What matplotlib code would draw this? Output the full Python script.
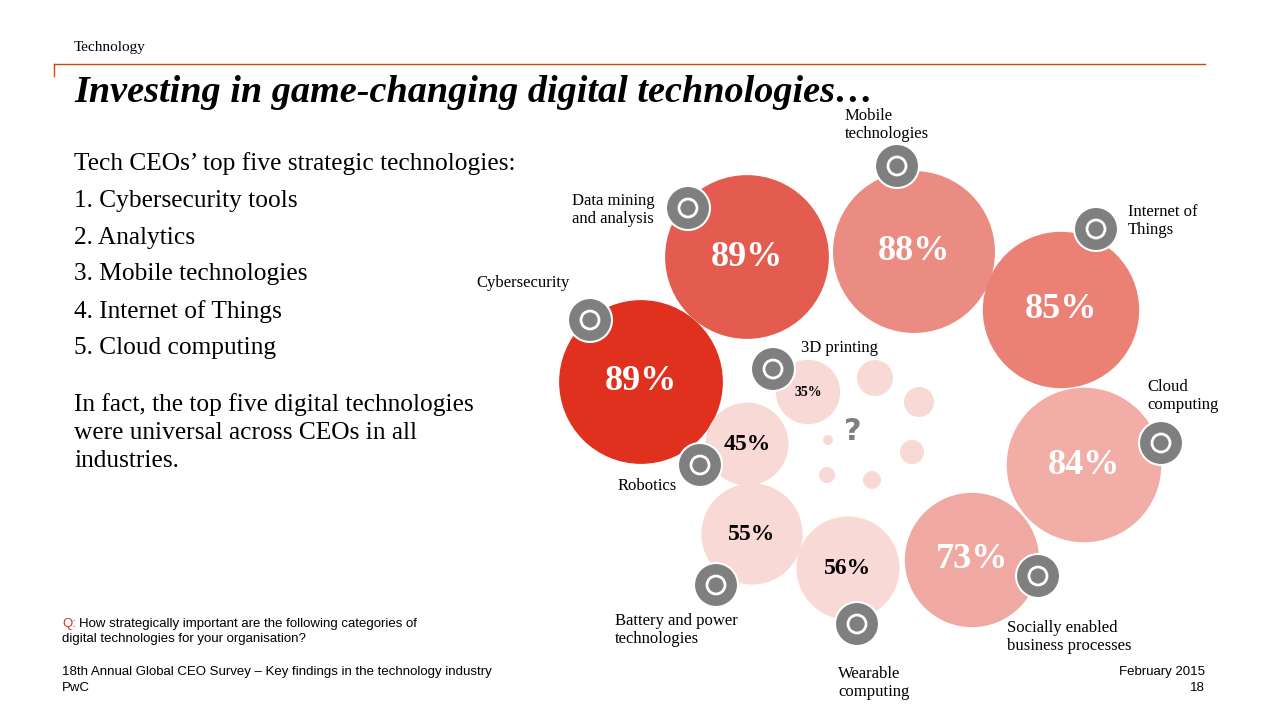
import matplotlib.pyplot as plt
from matplotlib.patches import Circle

# data
techs = ["Cybersecurity", "Data mining\nand analysis", "Mobile\ntechnologies", "Internet of\nThings",
         "Cloud\ncomputing", "Socially enabled\nbusiness processes", "Wearable\ncomputing",
         "Battery and power\ntechnologies", "Robotics", "3D printing"]
values = [89, 89, 88, 85, 84, 73, 56, 55, 45, 35]

# layout (pixels) and styling
centers = [(641, 382), (747, 257), (914, 252), (1061, 310), (1084, 465), (972, 560),
           (848, 568), (752, 534), (747, 444), (808, 392)]
colors = ["#E0301E", "#E45C50", "#EB8C82", "#EB8075", "#F2ADA6", "#F0A9A2",
          "#F9D9D6", "#F9D9D6", "#F9D9D6", "#F9D9D6"]
text_colors = ["white"] * 6 + ["black"] * 4
icons = [(590, 320), (688, 208), (897, 166), (1096, 229), (1161, 443), (1038, 576),
         (857, 624), (716, 585), (700, 465), (773, 369)]
labels = [(570, 283, "right"), (655, 210, "right"), (845, 125, "left"), (1128, 221, "left"),
          (1147, 396, "left"), (1007, 637, "left"), (838, 683, "left"), (615, 630, "left"),
          (677, 486, "right"), (801, 348, "left")]
dots = [(875, 378, 18), (919, 402, 15), (912, 452, 12), (828, 440, 5), (827, 475, 8), (872, 480, 9)]

serif = "Liberation Serif"
sans = "Liberation Sans"
fig = plt.figure(figsize=(12.8, 7.2), dpi=100)
ax = fig.add_axes([0, 0, 1, 1])
ax.set_xlim(0, 1280)
ax.set_ylim(720, 0)
ax.axis("off")

ax.text(74, 47, "Technology", fontsize=11, family=serif, va="center")
ax.plot([54, 1205], [64, 64], color="#D04A02", lw=1)
ax.plot([54, 54], [64, 76], color="#D04A02", lw=1)
ax.text(74, 93, "Investing in game-changing digital technologies…", fontsize=27.5, family=serif,
        weight="bold", style="italic", va="center")

body = ["Tech CEOs’ top five strategic technologies:", "1. Cybersecurity tools", "2. Analytics",
        "3. Mobile technologies", "4. Internet of Things", "5. Cloud computing"]
for i, line in enumerate(body):
    ax.text(74, 164 + i * 36.8, line, fontsize=18.3, family=serif, va="center")
ax.text(74, 393, "In fact, the top five digital technologies\nwere universal across CEOs in all\nindustries.",
        fontsize=18.3, family=serif, va="top", linespacing=1.35)

for (x, y, r) in dots:
    ax.add_patch(Circle((x, y), r, color="#F9D9D6", lw=0))
ax.text(853, 432, "?", fontsize=22, weight="bold", color="#7F7F7F", ha="center", va="center")

for name, v, (cx, cy), col, tc, (ix, iy), (lx, ly, ha) in zip(
        techs, values, centers, colors, text_colors, icons, labels):
    r = 0.92 * v
    ax.add_patch(Circle((cx, cy), r, color=col, lw=0))
    fs = 26 if v > 60 else (17 if v > 40 else 10)
    ax.text(cx, cy, f"{v}%", fontsize=fs, family=serif, weight="bold", color=tc,
            ha="center", va="center")
    ax.add_patch(Circle((ix, iy), 22, color="#7F7F7F", ec="white", lw=1.5, zorder=3))
    ax.add_patch(Circle((ix, iy), 9, fill=False, ec="white", lw=2, zorder=4))
    ax.text(lx, ly, name, fontsize=12, family=serif, ha=ha, va="center", linespacing=1.1,
            multialignment="left")

ax.text(62, 624, "Q:", color="#E0301E", fontsize=9.5, family=sans, va="center")
ax.text(79, 624, "How strategically important are the following categories of", fontsize=9.5,
        family=sans, va="center")
ax.text(62, 639, "digital technologies for your organisation?", fontsize=9.5, family=sans, va="center")
ax.text(62, 672, "18th Annual Global CEO Survey – Key findings in the technology industry",
        fontsize=9.5, family=sans, va="center")
ax.text(62, 688, "PwC", fontsize=9.5, family=sans, va="center")
ax.text(1205, 672, "February 2015", fontsize=9.5, family=sans, va="center", ha="right")
ax.text(1205, 688, "18", fontsize=9.5, family=sans, va="center", ha="right")

fig.savefig("out.png", dpi=100)
